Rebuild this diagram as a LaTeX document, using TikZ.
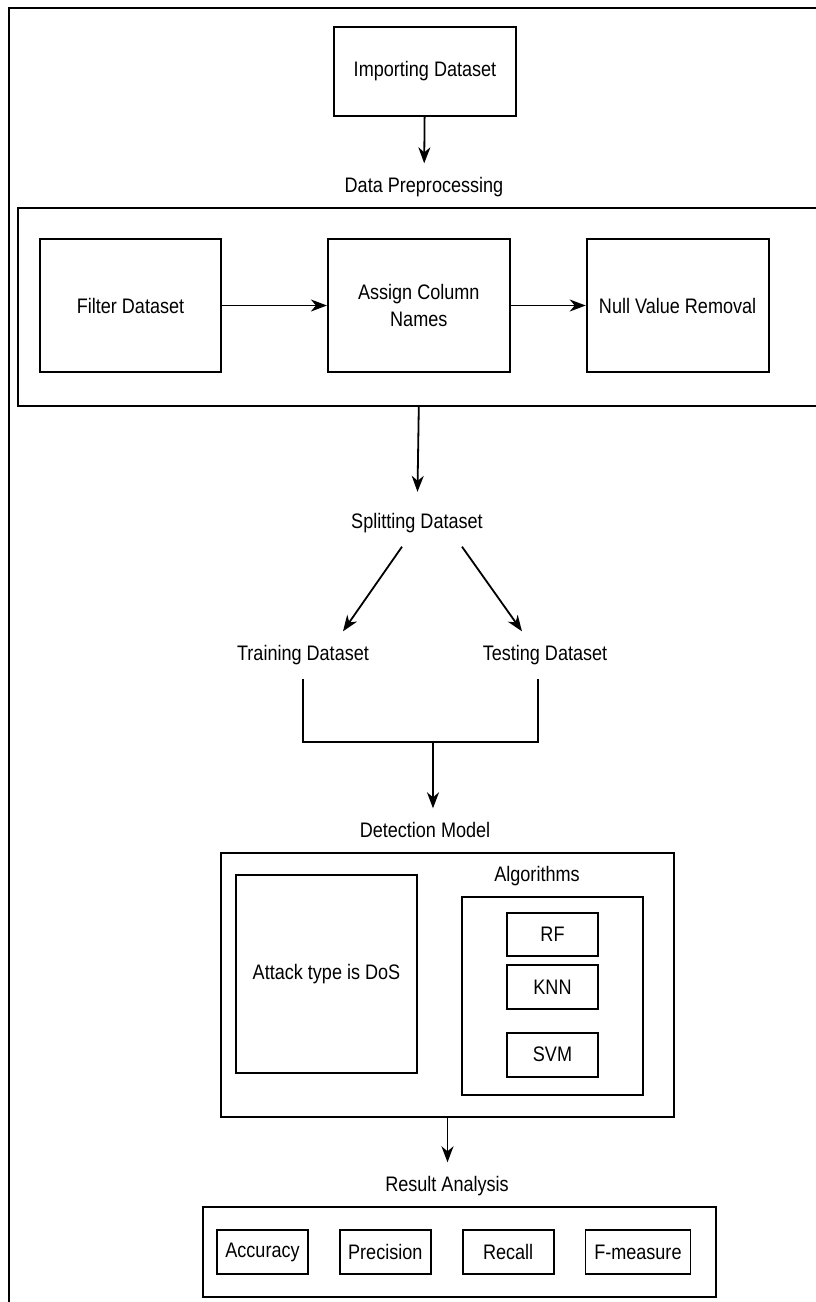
\documentclass[tikz,border=0pt]{standalone}
\usepackage{fontspec}
\setmainfont{Liberation Sans}[FakeStretch=0.86]
\usetikzlibrary{positioning,arrows.meta,calc}
\tikzset{
    flow/.style={->,>={Stealth[length=16pt,width=12pt,inset=5pt]},line width=1.8pt},
    frame/.style={draw,line width=1.8pt},
    stepbox/.style={draw,line width=1.8pt,align=center,inner sep=0pt,
        minimum width=182pt,minimum height=133pt},
    smallbox/.style={draw,line width=1.8pt,inner sep=0pt,
        minimum width=91pt,minimum height=44pt},
    title/.style={inner xsep=2pt,inner ysep=14pt,text height=15pt,text depth=4pt},
}

\begin{document}
\begin{tikzpicture}[x=1pt,y=-1pt,font=\fontsize{21pt}{27pt}\selectfont,
    every node/.style={align=center}]
    \useasboundingbox (0,0) rectangle (815,1302);
    \draw[line width=1.8pt] (9,1320) |- (830,8);

    \node[stepbox, minimum height=89pt] (imp) at (425,71.5) {Importing Dataset};
    \node[title] (preT) at (424,187) {Data Preprocessing};
    \node[frame, anchor=north west, minimum width=830pt, minimum height=198pt] (pre) at (17,207) {};
    \node[stepbox, minimum width=181pt] (filt) at (130.5,305.5) {Filter Dataset};
    \node[stepbox, right=105pt of filt] (asg) {Assign Column\\Names};
    \node[stepbox, right=75pt of asg] (nul) {Null Value Removal};

    \node[title] (split) at (417,523) {Splitting Dataset};
    \node[title] (train) at (303,655) {Training Dataset};
    \node[title] (test) at (545,655) {Testing Dataset};
    \coordinate (join) at (433,742);

    \node[title] (detT) at (425,832) {Detection Model};
    \node[frame, minimum width=453pt, minimum height=264pt] (det) at (447.5,985) {};
    \node[stepbox, minimum width=181pt, minimum height=198pt] (dos) at (326.5,974) {Attack type is DoS};
    \node (algT) at (537,876) {Algorithms};
    \node[frame, minimum width=181pt, minimum height=198pt] (alg) at (552.5,996) {};
    \node[smallbox, minimum height=43pt] (rf) at (552.5,934.5) {RF};
    \node[smallbox, below=7pt of rf] (knn) {KNN};
    \node[smallbox, below=22pt of knn] (svm) {SVM};

    \node[title] (resT) at (447,1186) {Result Analysis};
    \node[frame, minimum width=513pt, minimum height=90pt] (res) at (459.5,1252) {};
    \node[smallbox] (acc) at (262.5,1252) {Accuracy};
    \node[smallbox, right=30pt of acc] (prec) {Precision};
    \node[smallbox, right=30pt of prec] (rec) {Recall};
    \node[smallbox, right=30pt of rec, minimum width=105pt] (fm) {F-measure};

    \draw[flow] (imp) -- (preT);
    \draw[flow] (filt) -- (asg);
    \draw[flow] (asg) -- (nul);
    \draw[flow, shorten >=7.5pt] (asg |- pre.south) -- (split);
    \draw[flow] ([xshift=-15pt]split.south) -- ([xshift=40pt]train.north);
    \draw[flow] ([xshift=45pt]split.south) -- ([xshift=-23pt]test.north);
    \draw[line width=1.8pt] (train.south) |- (join) -| ([xshift=-7pt]test.south);
    \draw[flow] (join) -- (join |- detT.north);
    \draw[flow] (det.south) -- (det.south |- resT.north);
\end{tikzpicture}
\end{document}
